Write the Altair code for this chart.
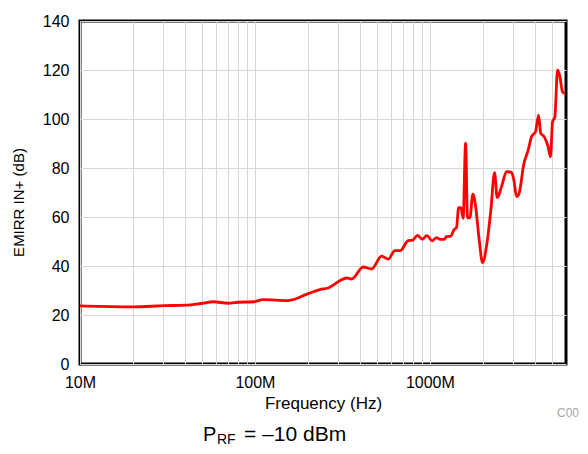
import altair as alt
import pandas as pd

# Frequency in MHz and EMIRR IN+ in dB
freq_mhz = [10, 15, 20.1, 30.2, 40.2, 50.2, 57.8, 70.3, 80.7, 99, 111, 155, 200, 235, 262,
            306, 334, 357, 416, 464, 530, 578, 631, 678, 751, 798, 849, 906, 961, 1031,
            1092, 1140, 1207, 1245, 1318, 1371, 1421, 1459, 1504, 1550, 1600, 1641, 1693,
            1761, 1832, 1914, 2001, 2125, 2232, 2343, 2426, 2570, 2744, 2929, 3020, 3128,
            3238, 3443, 3646, 3812, 4017, 4179, 4306, 4497, 4741, 4893, 5026, 5178, 5368,
            5534, 5733, 5905]
emirr_db = [23.7, 23.4, 23.3, 23.8, 24.0, 24.8, 25.4, 24.8, 25.2, 25.4, 26.3, 25.9, 28.6, 30.4, 31.0,
            34.0, 35.1, 34.7, 39.6, 38.8, 44.0, 42.8, 46.3, 46.3, 50.4, 50.6, 52.5, 50.9, 52.4, 50.3,
            51.6, 50.9, 50.9, 52.0, 52.2, 54.7, 55.8, 63.8, 63.8, 59.5, 90.1, 59.7, 59.7,
            69.3, 63.6, 50.6, 41.4, 49.9, 62.9, 78.1, 67.9, 72.4, 78.5, 78.2, 75.1, 68.3,
            69.7, 81.6, 87.3, 92.8, 94.8, 101.6, 94.1, 92.8, 88.7, 84.6, 98.9, 100.7, 120.0,
            117.3, 111.1, 110.5]

x_grid_values = [10, 20, 30, 40, 50, 60, 70, 80, 90,
                 100, 200, 300, 400, 500, 600, 700, 800, 900,
                 1000, 2000, 3000, 4000, 5000]
y_tick_values = [0, 20, 40, 60, 80, 100, 120, 140]

x_title = "Frequency (Hz)"
y_title = "EMIRR IN+ (dB)"
subtitle_parts = ["P", "RF", "= \u201310 dBm"]
code_label = "C007"

FONT = "Liberation Sans"
W, H = 486, 343

df = pd.DataFrame({"f": freq_mhz, "v": emirr_db})

line = alt.Chart(df).mark_line(color="#ff0000", strokeWidth=2.8, clip=True,
                               interpolate="monotone").encode(
    x=alt.X("f:Q",
            scale=alt.Scale(type="log", domain=[10, 6000], nice=False),
            axis=alt.Axis(values=x_grid_values,
                          labelExpr="(datum.value == 10 || datum.value == 100 || datum.value == 1000) ? datum.value + 'M' : ''",
                          labelFlush=False, labelOverlap=False, ticks=False, domain=False,
                          grid=True, gridColor="#d6d6d6", gridWidth=1,
                          labelFont=FONT, labelFontSize=16, labelColor="#000000",
                          labelPadding=10,
                          title=x_title, titleFont=FONT, titleFontSize=17,
                          titleFontWeight="normal", titleColor="#000000", titlePadding=5)),
    y=alt.Y("v:Q",
            scale=alt.Scale(domain=[0, 140], nice=False),
            axis=alt.Axis(values=y_tick_values, ticks=False, domain=False,
                          grid=True, gridColor="#d6d6d6", gridWidth=1,
                          labelFont=FONT, labelFontSize=16, labelColor="#000000",
                          labelPadding=11, labelFlush=False,
                          title=y_title, titleFont=FONT, titleFontSize=15,
                          titleFontWeight="normal", titleColor="#000000",
                          titleX=-62, titleY=181, titleAngle=-90,
                          titleAlign="center", titleBaseline="middle")),
)

def label(text, x, y, size, color="#000000", align="left"):
    return alt.Chart(pd.DataFrame({"t": [text]})).mark_text(
        font=FONT, fontSize=size, color=color, align=align, baseline="alphabetic"
    ).encode(x=alt.value(x), y=alt.value(y), text="t:N")

sub_layers = [
    label(subtitle_parts[0], 123, 420, 20),
    label(subtitle_parts[1], 137, 423, 14),
    label(subtitle_parts[2], 164, 420, 21),
]
code_txt = label(code_label, 477, 396, 12, color="#a6a6a6")

chart = alt.layer(line, *sub_layers, code_txt).properties(
    width=W, height=H,
    autosize=alt.AutoSizeParams(type="none"),
    padding={"left": 72, "top": 13, "right": 14, "bottom": 82},
).configure_view(stroke="#000000", strokeWidth=3)

chart.save("out.html", embed_options={"renderer": "svg", "actions": False})
